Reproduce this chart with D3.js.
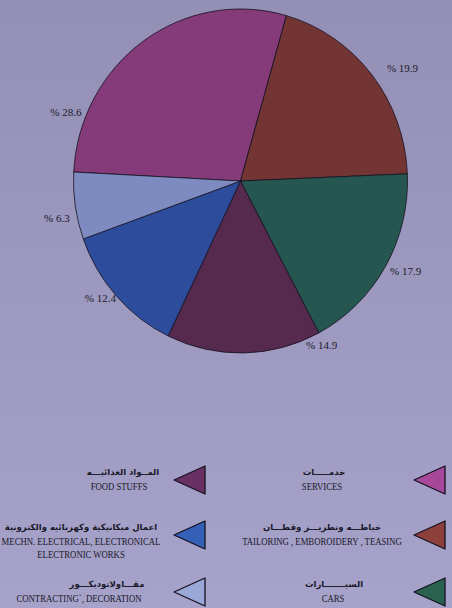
<!DOCTYPE html>
<html>
<head>
<meta charset="utf-8">
<script src="https://cdn.jsdelivr.net/npm/d3@7"></script>
<style>
  html, body { margin: 0; padding: 0; background: #9d98be; }
  svg { display: block; }
  .pct { font-family: "Liberation Serif", serif; font-size: 11px; fill: #1a1a2a; }
  .en { font-family: "Liberation Serif", serif; font-size: 10px; fill: #1a1a2a; }
  .ar { font-family: "DejaVu Sans", sans-serif; font-size: 8.5px; font-weight: bold; fill: #1a1a2a; }
</style>
</head>
<body>
<div id="chart"></div>
<script>
//////////////// DATA ////////////////

// Slices in drawing order (clockwise)
var categories = ["SERVICES", "TAILORING", "CARS", "FOOD STUFFS", "MECHN", "CONTRACTING"];
var shares = [28.6, 19.9, 17.9, 14.9, 12.4, 6.3];
var pctLabels = ["% 28.6", "% 19.9", "% 17.9", "% 14.9", "% 12.4", "% 6.3"];

// Legend text (arabic line + english lines)
var legendArabic = [
    "خدمـــــات",
    "خياطـــه وتطريـــز وقطـــان",
    "السيـــــــارات",
    "المــواد الغذائيـــه",
    "اعمال ميكانيكية وكهربائيه والكترونية",
    "مقـــاولاتوديكـــور"
];
var legendEnglish = [
    ["SERVICES"],
    ["TAILORING , EMBOROIDERY , TEASING"],
    ["CARS"],
    ["FOOD STUFFS"],
    ["MECHN. ELECTRICAL, ELECTRONICAL", "ELECTRONIC WORKS"],
    ["CONTRACTING`, DECORATION"]
];

//////////////// STYLE / LAYOUT ////////////////

var w = 452, h = 608;
var sliceColors = ["#853a7a", "#733534", "#255650", "#56294f", "#2e4c9c", "#7d8bc0"];
var legendColors = ["#a8489a", "#8d3f3c", "#2a6250", "#6a3063", "#3560b8", "#9aa8d8"];

// pie is a touch taller than wide in the picture
var cx = 240.5, cy = 181, rx = 167, ry = 172;
var startDeg = -87;

// label directions (degrees clockwise from 12 o'clock) and radius factor
var labelDeg = [-69, 56, 118, 153, 231, 259];
var labelR = [1.12, 1.17, 1.12, 1.07, 1.08, 1.12];

// legend: column 0 = right, column 1 = left
var legendTipX = [414, 174];
var legendTextX = [322, 322, 333, 119, 81, 79];
var legendArabicX = [324, 322, 334, 123, 81, 107];
var legendRowY = [480, 535, 592];
var enWidth = 0.87; // english lettering is slightly condensed

//////////////// DRAW ////////////////

var svg = d3.select("#chart").append("svg")
    .attr("width", w)
    .attr("height", h);

// soft background wash
var defs = svg.append("defs");
var grad = defs.append("linearGradient")
    .attr("id", "bg")
    .attr("x1", 0).attr("y1", 0).attr("x2", 0).attr("y2", 1);
grad.append("stop").attr("offset", "0%").attr("stop-color", "#948fb5");
grad.append("stop").attr("offset", "100%").attr("stop-color", "#a6a2c9");
svg.append("rect")
    .attr("width", w).attr("height", h)
    .attr("fill", "url(#bg)");

var rad = Math.PI / 180;
var pie = d3.pie()
    .sort(null)
    .value(function(d) { return d; })
    .startAngle(startDeg * rad)
    .endAngle(startDeg * rad + 2 * Math.PI);

var arc = d3.arc()
    .innerRadius(0)
    .outerRadius(rx);

var pieG = svg.append("g")
    .attr("transform", "translate(" + cx + "," + cy + ") scale(1," + (ry / rx) + ")");

pieG.selectAll("path")
    .data(pie(shares))
    .enter()
    .append("path")
    .attr("d", arc)
    .attr("fill", function(d, i) { return sliceColors[i]; })
    .attr("stroke", "#15121f")
    .attr("stroke-width", 0.8)
    .attr("vector-effect", "non-scaling-stroke");

// percent labels
svg.selectAll("text.pct")
    .data(pctLabels)
    .enter()
    .append("text")
    .attr("class", "pct")
    .attr("text-anchor", "middle")
    .attr("x", function(d, i) { return cx + Math.sin(labelDeg[i] * rad) * rx * labelR[i]; })
    .attr("y", function(d, i) { return cy - Math.cos(labelDeg[i] * rad) * ry * labelR[i] + 4; })
    .text(function(d) { return d; });

// legend
var legend = svg.selectAll("g.legend")
    .data(categories)
    .enter()
    .append("g")
    .attr("class", "legend");

legend.append("path")
    .attr("d", function(d, i) {
        var col = i < 3 ? 0 : 1,
            y = legendRowY[i % 3],
            tx = legendTipX[col];
        return "M" + tx + "," + y + "L" + (tx + 31) + "," + (y - 14) + "L" + (tx + 31) + "," + (y + 14) + "Z";
    })
    .attr("fill", function(d, i) { return legendColors[i]; })
    .attr("stroke", "#15121f")
    .attr("stroke-width", 1.3)
    .attr("stroke-linejoin", "round");

legend.append("text")
    .attr("class", "ar")
    .attr("text-anchor", "middle")
    .attr("direction", "rtl")
    .attr("x", function(d, i) { return legendArabicX[i]; })
    .attr("y", function(d, i) { return legendRowY[i % 3] - 5; })
    .text(function(d, i) { return legendArabic[i]; });

legend.each(function(d, i) {
    d3.select(this).selectAll("text.en")
        .data(legendEnglish[i])
        .enter()
        .append("text")
        .attr("class", "en")
        .attr("text-anchor", "middle")
        .attr("transform", function(t, j) {
            return "translate(" + legendTextX[i] + "," + (legendRowY[i % 3] + 10 + j * 13) + ") scale(" + enWidth + ",1)";
        })
        .text(function(t) { return t; });
});
</script>
</body>
</html>
